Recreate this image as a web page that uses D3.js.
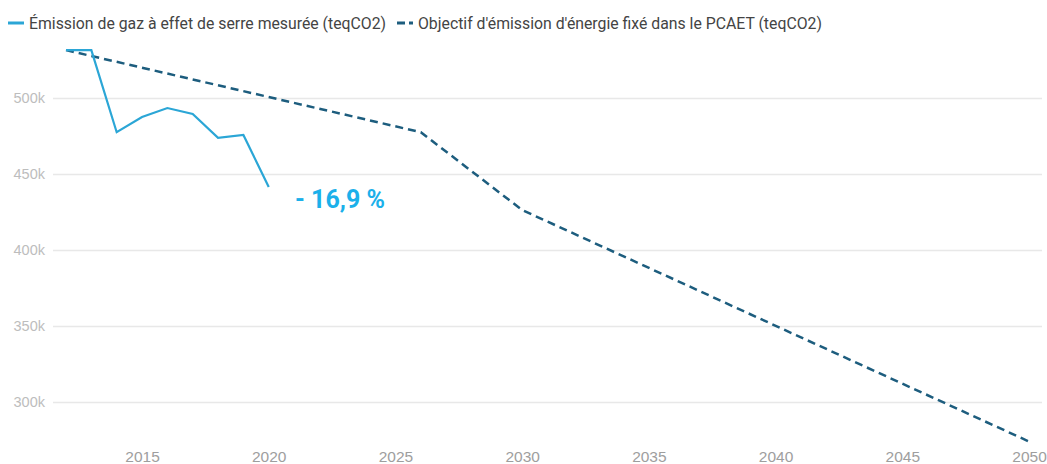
<!DOCTYPE html>
<html>
<head>
<meta charset="utf-8">
<script src="https://cdn.jsdelivr.net/npm/d3@7"></script>
<style>
  body { margin: 0; background: #fff; }
  svg { font-family: Roboto, "Noto Sans", sans-serif; }
</style>
</head>
<body>
<svg id="chart" width="1047" height="464"></svg>
<script>
// measured emissions (teqCO2)
let measuredYears = [2012, 2013, 2014, 2015, 2016, 2017, 2018, 2019, 2020];
let measuredValues = [531500, 531500, 477500, 487500, 493400, 489500, 473800, 475700, 441500];

// PCAET objective (teqCO2)
let objectiveYears = [2012, 2026, 2030, 2050];
let objectiveValues = [531500, 477500, 426300, 274000];

let xTicks = [2015, 2020, 2025, 2030, 2035, 2040, 2045, 2050];
let yTicks = [300000, 350000, 400000, 450000, 500000];

let legendLabels = [
    "Émission de gaz à effet de serre mesurée (teqCO2)",
    "Objectif d'émission d'énergie fixé dans le PCAET (teqCO2)"
];
let annotation = "- 16,9 %";

let measuredColor = "#2ba6d6";
let objectiveColor = "#1d5d7e";

let svg = d3.select("#chart");

let xScale = d3.scaleLinear().domain([2012, 2050]).range([66, 1029]);
let yScale = d3.scaleLinear().domain([300000, 500000]).range([402, 98]);

// grid lines + y labels
let yAxis = d3.axisLeft(yScale)
    .tickValues(yTicks)
    .tickSize(-(1042 - 53))
    .tickPadding(8)
    .tickFormat(d => (d / 1000) + "k");

let yg = svg.append("g")
    .attr("transform", "translate(53,0)")
    .call(yAxis);
yg.select(".domain").remove();
yg.selectAll(".tick line").attr("stroke", "#e8e8e8").attr("stroke-width", 1.5);
yg.selectAll(".tick text")
    .attr("fill", "#bdbdbd")
    .attr("font-size", 14.5)
    .attr("x", -8);

// x labels
let xAxis = d3.axisBottom(xScale)
    .tickValues(xTicks)
    .tickSize(0)
    .tickFormat(d3.format("d"));

let xg = svg.append("g")
    .attr("transform", "translate(0,451)")
    .call(xAxis);
xg.select(".domain").remove();
xg.selectAll(".tick text")
    .attr("fill", "#9e9e9e")
    .attr("font-size", 15.5)
    .attr("y", 0)
    .attr("dy", "0.71em");

// lines
let measuredData = measuredYears.map((y, i) => ({year: y, value: measuredValues[i]}));
let objectiveData = objectiveYears.map((y, i) => ({year: y, value: objectiveValues[i]}));

let lineGen = d3.line()
    .x(d => xScale(d.year))
    .y(d => yScale(d.value));

svg.append("path")
    .datum(objectiveData)
    .attr("d", lineGen)
    .attr("fill", "none")
    .attr("stroke", objectiveColor)
    .attr("stroke-width", 2.5)
    .attr("stroke-dasharray", "8,5");

svg.append("path")
    .datum(measuredData)
    .attr("d", lineGen)
    .attr("fill", "none")
    .attr("stroke", measuredColor)
    .attr("stroke-width", 2.2);

// annotation
svg.append("text")
    .attr("x", 295)
    .attr("y", 208)
    .attr("fill", "#1bb0ea")
    .attr("font-size", 25)
    .attr("font-weight", "bold")
    .text(annotation);

// legend
let legend = svg.append("g").attr("transform", "translate(8,23)");

legend.append("line")
    .attr("x1", 0).attr("x2", 16)
    .attr("stroke", measuredColor)
    .attr("stroke-width", 3);
legend.append("text")
    .attr("x", 21).attr("dy", "0.35em")
    .attr("fill", "#444")
    .attr("font-size", 15.8)
    .text(legendLabels[0]);

legend.append("line")
    .attr("x1", 389).attr("x2", 405)
    .attr("stroke", objectiveColor)
    .attr("stroke-width", 3)
    .attr("stroke-dasharray", "8,4");
legend.append("text")
    .attr("x", 410).attr("dy", "0.35em")
    .attr("fill", "#444")
    .attr("font-size", 15.8)
    .text(legendLabels[1]);
</script>
</body>
</html>
